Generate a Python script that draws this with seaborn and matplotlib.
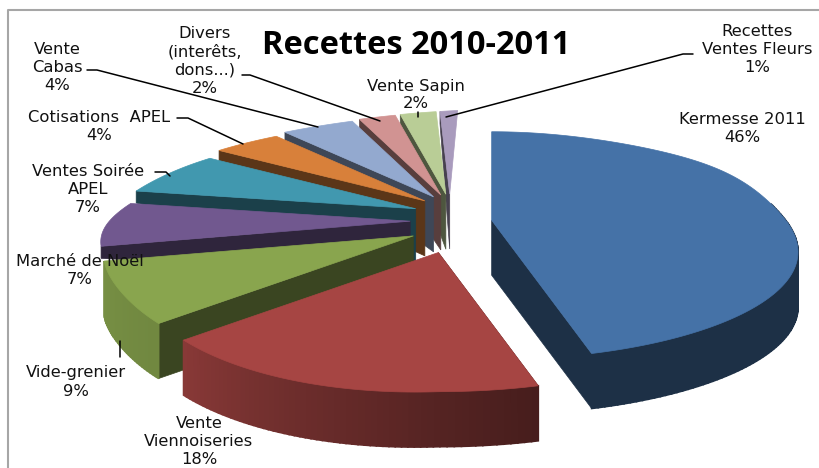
import numpy as np
import seaborn as sns
import matplotlib
matplotlib.use('Agg')
import matplotlib.pyplot as plt

# data
labels = ['Kermesse 2011', 'Vente\nViennoiseries', 'Vide-grenier', 'Marché de Noël',
          'Ventes Soirée\nAPEL', 'Cotisations  APEL', 'Vente\nCabas',
          'Divers\n(interêts,\ndons...)', 'Vente Sapin', 'Recettes\nVentes Fleurs']
values = [46, 18, 9, 7, 7, 4, 4, 2, 2, 1]
colors = ['#4572A7', '#A64543', '#89A54E', '#71588F', '#4198AF',
          '#D8803A', '#93A9CF', '#D19392', '#B9CD96', '#A99BBD']
title = 'Recettes 2010-2011'

# layout, in pixels of the original picture
label_pos = [(742, 129), (199, 442), (76, 382), (80, 271), (88, 189),
             (99, 126), (57, 67), (205, 61), (416, 95), (757, 50)]
leaders = [[(87, 70), (97, 70), (318, 127)],
           [(242, 75), (250, 75), (380, 121)],
           [(177, 118), (188, 118), (243, 144)],
           [(155, 172), (166, 172), (170, 176)],
           [(120, 341), (120, 357)],
           [(418, 117), (418, 112)],
           [(446, 117), (683, 54), (693, 54)]]
cx, cy = 451, 224
exp_x, exp_y = 41, 30
rad_x, rad_y = 298, 102
persp = 0.267
depth = 55

sns.set_theme(style='white')
plt.rcParams['font.family'] = ['DejaVu Sans']
palette = sns.color_palette(colors)


def project(theta, apex):
    """pie plane -> picture, the front of the pie comes closer"""
    u, v = np.sin(np.radians(theta)), np.cos(np.radians(theta))
    f = 1 / (1 + persp * v)
    x = rad_x * u * f
    y = rad_y * v * f
    # the original view is not a clean perspective, these follow its outline
    left = theta > 180
    back = np.maximum(v, 0)
    x = x + left * (45 * u * v - 10 * u ** 16 + 8 * back ** 8)
    x = x + (~left) * (60 * u * back ** 2 - 4 * u ** 8)
    y = y - left * (12 * np.abs(u) - 3 * back ** 8)
    y = y + (~left) * 8 * back ** 8
    return apex[0] + x, apex[1] - y


def rim_shade(theta):
    return np.interp(theta, [0, 165, 230, 270, 360], [0.42, 0.42, 0.82, 0.88, 0.88])


def dark(col, s):
    return tuple(np.array(col) * s)


fig = plt.figure(figsize=(8.19, 4.68), dpi=100)
ax = fig.add_axes([0, 0, 1, 1])
ax.set_xlim(0, 819)
ax.set_ylim(468, 0)
ax.axis('off')

# frame
ax.plot([8, 8, 819], [468, 10, 10], color='#a6a6a6', lw=1.5, zorder=1)

edges = np.cumsum([0] + values) / np.sum(values) * 360
# far slices first, the two big ones at the end
order = [9, 8, 7, 6, 5, 4, 3, 2, 0, 1]
for z, i in enumerate(order):
    t1, t2 = edges[i], edges[i + 1]
    mid = (t1 + t2) / 2
    apex = (cx + exp_x * np.sin(np.radians(mid)), cy - exp_y * np.cos(np.radians(mid)))
    th = np.linspace(t1, t2, max(int(t2 - t1), 4) + 1)
    xs, ys = project(th, apex)
    base = 10 + z * 2
    col = palette[i]
    side = dark(col, 0.42)
    front = i < 3
    # the flat cut; on the far slices only the part near the next slice shows
    k = -1 if i == 0 else 0
    outer = depth if front else 12
    ax.fill([apex[0], xs[k], xs[k], apex[0]],
            [apex[1], ys[k], ys[k] + outer, apex[1] + depth],
            color=side, lw=0.5, zorder=base)
    # the curved wall, cut in small bands for the shading
    for k in range(len(th) - 1):
        if not front or th[k] < 80:
            continue
        c = dark(col, rim_shade((th[k] + th[k + 1]) / 2))
        ax.fill([xs[k], xs[k + 1], xs[k + 1], xs[k]],
                [ys[k], ys[k + 1], ys[k + 1] + depth, ys[k] + depth],
                color=c, lw=1.2, zorder=base)
    ax.fill(np.r_[apex[0], xs], np.r_[apex[1], ys], color=col, lw=0.5, zorder=base + 1)

for line in leaders:
    pts = np.array(line)
    ax.plot(pts[:, 0], pts[:, 1], color='black', lw=1.1, zorder=40)

for name, val, pos in zip(labels, values, label_pos):
    ax.text(pos[0], pos[1], '{}\n{}%'.format(name, val), ha='center', va='center',
            fontsize=11.8, color='#111111', linespacing=1.25, zorder=50)

ax.text(416, 45, title, ha='center', va='center', fontsize=23.5, fontweight='bold',
        family='Open Sans', color='black', zorder=50)

fig.savefig('out.png', dpi=100)
